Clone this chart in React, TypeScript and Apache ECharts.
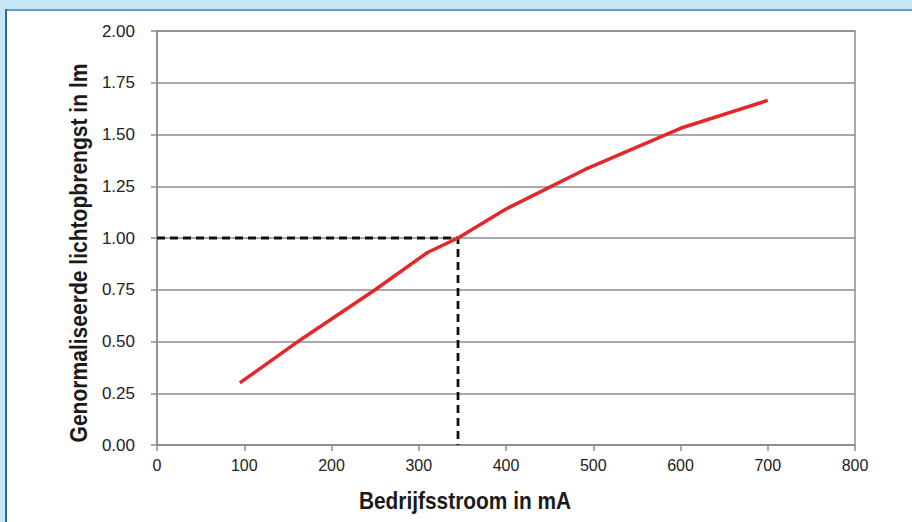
import React, { useEffect, useRef } from "react";
import * as echarts from "echarts";

const currentMA = [95, 165, 250, 310, 345, 400, 490, 600, 700];
const normalizedLumen = [0.30, 0.51, 0.75, 0.93, 1.0, 1.14, 1.33, 1.53, 1.665];
const refX = [0, 345, 345];
const refY = [1.0, 1.0, 0];
const xTitle = "Bedrijfsstroom in mA";
const yTitle = "Genormaliseerde lichtopbrengst in lm";

export default function App() {
  const ref = useRef<HTMLDivElement>(null);
  useEffect(() => {
    if (!ref.current) return;
    const chart = echarts.init(ref.current, null, { renderer: "svg" });
    const font = "'Liberation Sans', Arial, Helvetica, sans-serif";
    const gray = "#8c8c8c";
    chart.setOption({
      animation: false,
      backgroundColor: "#c6e7f8",
      textStyle: { fontFamily: font },
      graphic: [
        { type: "rect", z: -10, shape: { x: 6, y: 10, width: 906, height: 512 }, style: { fill: "#ffffff" } },
        { type: "rect", z: -9, shape: { x: 5, y: 9, width: 907, height: 2 }, style: { fill: "#5d9dcb" } },
        { type: "rect", z: -9, shape: { x: 5, y: 9, width: 2, height: 513 }, style: { fill: "#2a67a0" } },
        {
          type: "text",
          x: 465,
          y: 501,
          scaleX: 0.87,
          style: { text: xTitle, font: `bold 24px ${font}`, fill: "#1a1a1a", align: "center", verticalAlign: "middle" },
        },
        {
          type: "text",
          x: 78,
          y: 253,
          rotation: Math.PI / 2,
          scaleX: 0.86,
          style: { text: yTitle, font: `bold 24.5px ${font}`, fill: "#1a1a1a", align: "center", verticalAlign: "middle" },
        },
      ],
      grid: {
        left: 157,
        right: 57,
        top: 31,
        bottom: 77,
        show: true,
        borderColor: gray,
        borderWidth: 1.5,
      },
      xAxis: {
        type: "value",
        min: 0,
        max: 800,
        interval: 100,
        axisLine: { show: true, lineStyle: { color: gray, width: 1.5 } },
        axisTick: { show: true, length: 6, lineStyle: { color: gray, width: 1.5 } },
        splitLine: { show: false },
        axisLabel: { color: "#222", fontSize: 16, margin: 12, fontFamily: font },
      },
      yAxis: {
        type: "value",
        min: 0,
        max: 2,
        interval: 0.25,
        axisLine: { show: true, lineStyle: { color: gray, width: 1.5 } },
        axisTick: { show: true, length: 6, lineStyle: { color: gray, width: 1.5 } },
        splitLine: { show: true, lineStyle: { color: gray, width: 1.5 } },
        axisLabel: {
          color: "#222",
          fontSize: 17,
          margin: 22,
          fontFamily: font,
          formatter: (v: number) => v.toFixed(2),
        },
      },
      series: [
        {
          type: "line",
          data: refX.map((x, i) => [x, refY[i]]),
          symbol: "none",
          lineStyle: { color: "#111", width: 2.8, type: [8, 5] },
          z: 3,
        },
        {
          type: "line",
          data: currentMA.map((x, i) => [x, normalizedLumen[i]]),
          symbol: "none",
          lineStyle: { color: "#e2282a", width: 3.5 },
          z: 4,
        },
      ],
    });
    return () => chart.dispose();
  }, []);
  return (
    <div
      ref={ref}
      style={{ position: "fixed", left: 0, top: 0, width: 912, height: 522 }}
    />
  );
}
